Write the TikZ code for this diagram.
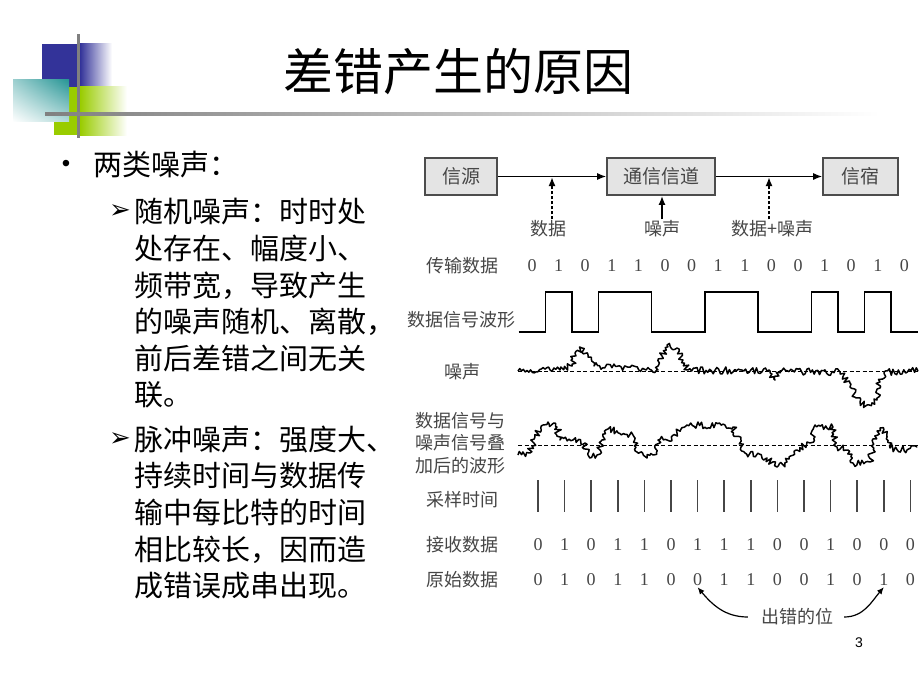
\documentclass[tikz,border=0pt]{standalone}
\usepackage{fontspec}
\setmainfont{Noto Sans CJK SC}
\newfontfamily\digitfont{Liberation Serif}
\newfontfamily\arialfont{Liberation Sans}
\newfontfamily\symbolfont{DejaVu Sans}
\usetikzlibrary{arrows.meta,decorations.pathmorphing,shadings}
\definecolor{slideblue}{RGB}{51,51,153}
\definecolor{slideteal}{RGB}{40,150,150}
\definecolor{slidegreen}{RGB}{153,204,0}
\definecolor{slidegray}{RGB}{128,128,128}
\definecolor{boxgray}{RGB}{228,228,228}
\definecolor{figtext}{RGB}{70,70,70}

% jitter across the path only
\pgfdeclaredecoration{vjitter}{start}{
  \state{start}[width=+0pt, next state=step, persistent precomputation=\pgfdecoratepathhascornerstrue]{}
  \state{step}[auto end on length=1.5\pgfdecorationsegmentlength,
               auto corner on length=1.5\pgfdecorationsegmentlength,
               width=+\pgfdecorationsegmentlength]{
    \pgfpathlineto{\pgfpoint{\pgfdecorationsegmentlength}{rand*\pgfdecorationsegmentamplitude}}
  }
  \state{final}{\pgfpathlineto{\pgfpointdecoratedpathlast}}
}

\begin{document}
\begin{tikzpicture}[
    x=1pt, y=-1pt,
    >={Latex[length=9pt,width=7pt]},
    % Define styles
    title/.style={font=\fontsize{50}{58}\selectfont},
    para/.style={font=\fontsize{29}{36.6}\selectfont, align=left, inner sep=0pt, anchor=west},
    chanbox/.style={rectangle, draw=black!70, line width=1.6pt, fill=boxgray, minimum height=37pt, font=\fontsize{19}{22}\selectfont, text=figtext},
    lbl/.style={font=\fontsize{18}{22}\selectfont, text=figtext, inner sep=1pt},
    digit/.style={font=\digitfont\fontsize{18}{20}\selectfont, text=figtext, inner sep=1pt},
    arr/.style={->, line width=1.3pt},
    dasharr/.style={->, line width=2.2pt, dash pattern=on 3pt off 2pt},
    errarr/.style={-{Latex[length=7pt,width=6pt]}, line width=1.2pt},
    wave/.style={line width=1.5pt},
    noisy/.style={line width=1.5pt, line join=round, decorate, decoration={vjitter, segment length=1.8pt, amplitude=3.6pt}},
    zeroline/.style={line width=1pt, dash pattern=on 4pt off 2.5pt},
    samplemark/.style={line width=1.6pt, draw=figtext}
]
\path[use as bounding box, fill=white] (0,0) rectangle (920,690);

% Slide decoration
\fill[slideblue] (42,44) rectangle (80,87);
\shade[left color=slideblue, right color=white] (80,44) rectangle (112,87);
\fill[slidegreen] (54,87) rectangle (80,135);
\shade[left color=slidegreen, right color=white] (80,87) rectangle (127,135);
\shade[upper left=slideteal!45!white, upper right=slideteal, lower left=white, lower right=slideteal!35!white] (13,80) rectangle (69,122);
\fill[slidegray] (77,34) rectangle (79.5,138);
\shade[left color=slidegray, right color=white] (45,112.5) rectangle (880,115.5);

% Title
\node[title] (ttl) at (458,72) {差错产生的原因};

% Bullet text
\node[font=\arialfont\fontsize{24}{28}\selectfont] (dot1) at (66,166) {•};
\node[para] (head) at (93,165) {两类噪声：};
\node[font=\symbolfont\fontsize{26}{30}\selectfont] (mk1) at (120,212) {➢};
\node[para] (rnd) at (134,303.5) {随机噪声：时时处\\处存在、幅度小、\\频带宽，导致产生\\的噪声随机、离散，\\前后差错之间无关\\联。};
\node[font=\symbolfont\fontsize{26}{30}\selectfont] (mk2) at (120,440) {➢};
\node[para] (imp) at (134,512.5) {脉冲噪声：强度大、\\持续时间与数据传\\输中每比特的时间\\相比较长，因而造\\成错误成串出现。};

% Channel model
\node[chanbox, minimum width=72pt] (src) at (461,176.5) {信源};
\node[chanbox, minimum width=108pt] (chan) at (661,176.5) {通信信道};
\node[chanbox, minimum width=75pt] (sink) at (860.5,176.5) {信宿};
\coordinate (tapA) at (552,177);
\coordinate (tapB) at (769,177);
\node[lbl] (datlbl) at (548,229) {数据};
\node[lbl] (noilbl) at (662,229) {噪声};
\node[lbl] (bothlbl) at (772,229) {数据+噪声};

\draw[arr] (src) -- (chan);
\draw[arr] (chan) -- (sink);
\draw[dasharr] (datlbl.north -| tapA) -- (tapA);
\draw[arr, line width=2.2pt] (noilbl.north) -- (noilbl.north |- chan.south);
\draw[dasharr] (bothlbl.north -| tapB) -- (tapB);

% Row labels
\node[lbl] (txlbl) at (462,266) {传输数据};
\node[lbl, anchor=east] (wavelbl) at (517,320) {数据信号波形};
\node[lbl] (noiselbl) at (462,372) {噪声};
\node[lbl, align=center, font=\fontsize{18}{22.5}\selectfont] (sumlbl) at (460,443) {数据信号与\\噪声信号叠\\加后的波形};
\node[lbl] (smplbl) at (462,500) {采样时间};
\node[lbl] (rxlbl) at (462,545) {接收数据};
\node[lbl] (orglbl) at (462,580) {原始数据};

% Bit rows
\foreach \b [count=\i from 0] in {0,1,0,1,1,0,0,1,1,0,0,1,0,1,0}
  \node[digit] (t\i) at ({532+26.6*\i},266) {\b};
\foreach \b [count=\i from 0] in {0,1,0,1,1,0,1,1,1,0,0,1,0,0,0}
  \node[digit] (r\i) at ({538+26.6*\i},545) {\b};
\foreach \b [count=\i from 0] in {0,1,0,1,1,0,0,1,1,0,0,1,0,1,0}
  \node[digit] (o\i) at ({538+26.6*\i},580) {\b};

% Data waveform
\draw[wave] (518.7,332) -| (545.3,292) -| (571.9,332) -| (598.5,292) -| (651.7,332)
  -| (704.9,292) -| (758.1,332) -| (811.3,292) -| (837.9,332) -| (864.5,292)
  -| (891.1,332) -- (917.7,332);

% Noise
\pgfmathsetseed{11}
\draw[zeroline] (518,371) -- (918,371);
\draw[noisy] (518,371) -- (560,370) -- (572,366) -- (575,353) -- (582,348) -- (588,355)
  -- (594,366) -- (658,370) -- (662,356) -- (667,345) -- (677,348) -- (683,360)
  -- (688,370) -- (770,371) -- (775,380) -- (780,371) -- (840,372) -- (850,387)
  -- (860,402) -- (867,405) -- (877,400) -- (880,382) -- (884,372) -- (918,371);

% Data plus noise
\draw[zeroline] (518,445) -- (918,445);
\draw[noisy] (518,455) -- (530,453) -- (535,437) -- (543,425) -- (548,422) -- (557,427)
  -- (560,440) -- (573,440) -- (585,443) -- (588,455) -- (597,455) -- (602,440)
  -- (608,429) -- (633,435) -- (637,452) -- (647,458) -- (653,455) -- (658,440)
  -- (667,440) -- (677,433) -- (687,425) -- (733,427) -- (745,453) -- (767,458)
  -- (777,467) -- (787,462) -- (797,450) -- (810,443) -- (815,425) -- (833,427)
  -- (837,447) -- (848,450) -- (853,463) -- (870,462) -- (873,443) -- (880,428)
  -- (887,437) -- (890,448) -- (907,450) -- (917,447);

% Sampling instants
\foreach \i in {0,...,14}
  \draw[samplemark] ({538+26.6*\i},480) -- ++(0,32);

% Error bits
\node[lbl] (err) at (797,617) {出错的位};
\draw[errarr] ([xshift=-12pt]err.west) to[out=180, in=-50] (o6.south);
\draw[errarr] ([xshift=10pt]err.east) to[out=0, in=-130] (o13.south);

% Page number
\node[font=\arialfont\fontsize{14}{16}\selectfont] (pgno) at (859,643) {3};

\end{tikzpicture}
\end{document}
